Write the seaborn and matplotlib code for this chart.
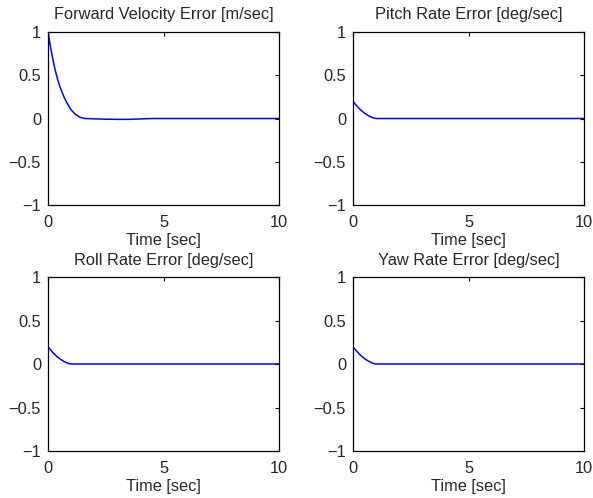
import pandas as pd
import matplotlib
matplotlib.use('Agg')
import matplotlib.pyplot as plt
import seaborn as sns

# values
time_fwd = [0, 0.1, 0.2, 0.3, 0.4, 0.5, 0.6, 0.7, 0.8, 1.0, 1.2, 1.4, 1.6, 2.0, 2.5, 3.0, 3.5, 4.0, 4.5, 5.0, 10.0]
fwd_err = [1.0, 0.84, 0.70, 0.57, 0.47, 0.38, 0.31, 0.245, 0.19, 0.10, 0.045, 0.012, 0.0, -0.004, -0.008, -0.01, -0.01, -0.005, 0.0, 0.0, 0.0]

time_rate = [0, 0.1, 0.2, 0.3, 0.4, 0.5, 0.6, 0.7, 0.8, 0.9, 1.0, 2.0, 5.0, 10.0]
pitch_err = [0.2, 0.165, 0.135, 0.107, 0.083, 0.062, 0.044, 0.028, 0.015, 0.005, 0.0, 0.0, 0.0, 0.0]
roll_err = [0.2, 0.165, 0.135, 0.107, 0.083, 0.062, 0.044, 0.028, 0.015, 0.005, 0.0, 0.0, 0.0, 0.0]
yaw_err = [0.2, 0.165, 0.135, 0.107, 0.083, 0.062, 0.044, 0.028, 0.015, 0.005, 0.0, 0.0, 0.0, 0.0]

titles = ['Forward Velocity Error [m/sec]', 'Pitch Rate Error [deg/sec]',
          'Roll Rate Error [deg/sec]', 'Yaw Rate Error [deg/sec]']

sns.set_style('white')
plt.rcParams['font.family'] = ['Liberation Sans', 'DejaVu Sans']
fs = 11.8

fig = plt.figure(figsize=(5.93, 4.98), dpi=100)
boxes = [
    [48/593, 1 - 205/498, 231/593, 173/498],
    [353/593, 1 - 205/498, 231/593, 173/498],
    [48/593, 1 - 451/498, 231/593, 174/498],
    [353/593, 1 - 451/498, 231/593, 174/498],
]
series = [(time_fwd, fwd_err), (time_rate, pitch_err), (time_rate, roll_err), (time_rate, yaw_err)]

for box, (t, e), title in zip(boxes, series, titles):
    ax = fig.add_axes(box)
    df = pd.DataFrame({'t': t, 'e': e})
    sns.lineplot(data=df, x='t', y='e', ax=ax, color='#0000ff', linewidth=1.1)
    ax.set_xlim(0, 10)
    ax.set_ylim(-1, 1)
    ax.set_xticks([0, 5, 10])
    ax.set_yticks([-1, -0.5, 0, 0.5, 1])
    ax.set_yticklabels(['\u22121', '\u22120.5', '0', '0.5', '1'])
    ax.tick_params(direction='in', length=3, width=0.8, top=True, right=True,
                   labelsize=fs, color='black')
    ax.tick_params(axis='x', pad=7)
    ax.tick_params(axis='y', pad=5)
    for s in ax.spines.values():
        s.set_color('black')
        s.set_linewidth(0.9)
    ax.set_title(title, fontsize=fs, pad=9)
    ax.set_xlabel('Time [sec]', fontsize=fs, labelpad=2)
    ax.set_ylabel('')

fig.savefig('out.png', dpi=100)
